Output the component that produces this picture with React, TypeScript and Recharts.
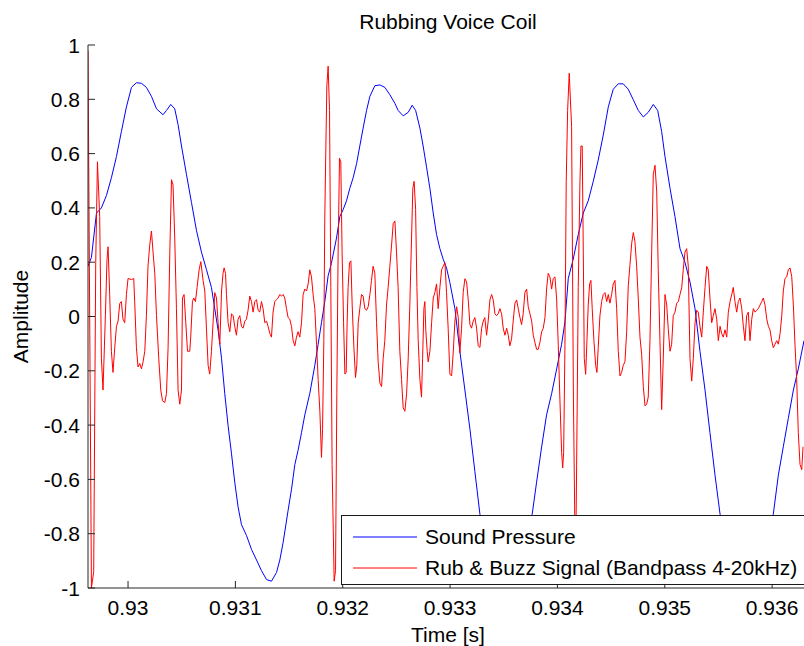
import React from "react";
import { LineChart, Line, XAxis, YAxis, Legend } from "recharts";

// ---- data (time in seconds, amplitude) ----
const blueTime = [
  0.929627, 0.929659, 0.929706, 0.929752, 0.929799, 0.929845, 0.929892, 0.929938, 0.929985, 0.930032,
  0.930078, 0.930125, 0.930171, 0.930218, 0.930265, 0.930326, 0.930358, 0.930398, 0.930435, 0.930466,
  0.930498, 0.930544, 0.930591, 0.930638, 0.930684, 0.930731, 0.930777, 0.930839, 0.930871, 0.930901,
  0.930932, 0.930964, 0.930994, 0.931025, 0.931057, 0.931103, 0.93115, 0.931197, 0.931243, 0.93129,
  0.931336, 0.931383, 0.931414, 0.931445, 0.931491, 0.931523, 0.931554, 0.931584, 0.931616, 0.931647,
  0.931693, 0.93174, 0.931771, 0.931802, 0.931833, 0.931864, 0.931894, 0.931942, 0.931973, 0.932004,
  0.932035, 0.932066, 0.932097, 0.932129, 0.932159, 0.93219, 0.932222, 0.932253, 0.932299, 0.932346,
  0.932392, 0.932439, 0.932486, 0.932516, 0.932563, 0.93261, 0.932647, 0.932679, 0.932719, 0.932749,
  0.932781, 0.932812, 0.932843, 0.932874, 0.932905, 0.932936, 0.932967, 0.932998, 0.933045, 0.933091,
  0.933138, 0.933185, 0.933231, 0.933278, 0.933324, 0.933371, 0.933418, 0.933464, 0.933511, 0.933573,
  0.933623, 0.933669, 0.933716, 0.933765, 0.933806, 0.933853, 0.933899, 0.933946, 0.933993, 0.934039,
  0.93407, 0.934101, 0.934147, 0.934194, 0.934241, 0.934287, 0.934334, 0.93438, 0.934427, 0.934474,
  0.93452, 0.934567, 0.934613, 0.93466, 0.934707, 0.934753, 0.9348, 0.934846, 0.934893, 0.934934,
  0.934971, 0.935002, 0.935049, 0.935095, 0.935142, 0.935188, 0.935235, 0.935282, 0.935328, 0.935375,
  0.935421, 0.935468, 0.935515, 0.935561, 0.935608, 0.935654, 0.935701, 0.935747, 0.93581, 0.935859,
  0.935906, 0.935952, 0.936011, 0.936058, 0.936104, 0.936151, 0.936198, 0.936244, 0.936297,
];
const blueValue = [
  0.185, 0.218, 0.381, 0.4, 0.446, 0.511, 0.589, 0.681, 0.772, 0.844,
  0.861, 0.859, 0.844, 0.811, 0.765, 0.743, 0.759, 0.781, 0.765, 0.707,
  0.628, 0.524, 0.42, 0.316, 0.237, 0.172, 0.107, -0.05, -0.154, -0.284,
  -0.402, -0.506, -0.61, -0.701, -0.767, -0.806, -0.858, -0.897, -0.936, -0.969,
  -0.975, -0.943, -0.897, -0.832, -0.714, -0.636, -0.545, -0.493, -0.428, -0.362,
  -0.284, -0.18, -0.102, -0.023, 0.055, 0.15, 0.195, 0.289, 0.368, 0.394,
  0.426, 0.472, 0.511, 0.563, 0.628, 0.694, 0.759, 0.811, 0.85, 0.853,
  0.844, 0.817, 0.785, 0.759, 0.739, 0.752, 0.778, 0.759, 0.694, 0.628,
  0.55, 0.472, 0.381, 0.302, 0.25, 0.211, 0.179, 0.125, 0.029, -0.128,
  -0.271, -0.415, -0.571, -0.728, -0.8, -0.85, -0.89, -0.93, -0.96, -0.985,
  -0.95, -0.88, -0.8, -0.728, -0.61, -0.48, -0.362, -0.284, -0.193, -0.102,
  -0.02, 0.14, 0.211, 0.302, 0.381, 0.426, 0.498, 0.576, 0.668, 0.772,
  0.837, 0.857, 0.857, 0.837, 0.798, 0.759, 0.735, 0.752, 0.781, 0.759,
  0.681, 0.589, 0.472, 0.368, 0.25, 0.2, 0.127, 0.029, -0.128, -0.271,
  -0.428, -0.584, -0.728, -0.8, -0.85, -0.89, -0.93, -0.96, -0.988, -0.95,
  -0.88, -0.8, -0.728, -0.584, -0.48, -0.375, -0.271, -0.193, -0.089,
];

const redTime = [
  0.929627, 0.929659, 0.92968, 0.929699, 0.929715, 0.929736, 0.929752, 0.929767, 0.929789, 0.929804,
  0.929814, 0.929829, 0.929845, 0.92986, 0.929876, 0.929892, 0.929907, 0.929923, 0.929938, 0.929953,
  0.929969, 0.929985, 0.93, 0.930032, 0.930053, 0.930062, 0.930078, 0.930093, 0.930109, 0.930125,
  0.93014, 0.930156, 0.930171, 0.930186, 0.930202, 0.930218, 0.930233, 0.930249, 0.930265, 0.930286,
  0.930305, 0.930321, 0.930342, 0.930358, 0.930373, 0.930389, 0.930405, 0.930419, 0.930435, 0.930451,
  0.930466, 0.930482, 0.930498, 0.930507, 0.930522, 0.930538, 0.930554, 0.930575, 0.930584, 0.9306,
  0.930612, 0.930628, 0.930643, 0.930662, 0.930678, 0.930699, 0.930715, 0.930731, 0.930746, 0.930761,
  0.930777, 0.930792, 0.930808, 0.930824, 0.930839, 0.930855, 0.930871, 0.930885, 0.930895, 0.930908,
  0.930917, 0.930932, 0.930948, 0.930964, 0.930979, 0.930994, 0.93101, 0.931025, 0.931041, 0.931057,
  0.931072, 0.931088, 0.931103, 0.931118, 0.931134, 0.93115, 0.931165, 0.931181, 0.931197, 0.931212,
  0.931227, 0.931243, 0.931258, 0.931274, 0.93129, 0.931305, 0.931321, 0.931336, 0.931351, 0.931367,
  0.931383, 0.931398, 0.931414, 0.93143, 0.931445, 0.93146, 0.931476, 0.931491, 0.931507, 0.931523,
  0.931538, 0.931554, 0.931569, 0.931584, 0.9316, 0.931616, 0.931631, 0.931647, 0.931663, 0.931678,
  0.931693, 0.931709, 0.931724, 0.93174, 0.931756, 0.931771, 0.931787, 0.931802, 0.931812, 0.931824,
  0.931833, 0.931843, 0.931852, 0.931864, 0.931877, 0.931889, 0.931901, 0.93192, 0.931933, 0.931945,
  0.931957, 0.93197, 0.931982, 0.931994, 0.932008, 0.93202, 0.932032, 0.932041, 0.93205, 0.932063,
  0.932076, 0.932088, 0.932104, 0.932119, 0.932131, 0.932144, 0.932159, 0.932175, 0.93219, 0.932206,
  0.932222, 0.932237, 0.932253, 0.932268, 0.932283, 0.932299, 0.932315, 0.93233, 0.932346, 0.932362,
  0.932377, 0.932392, 0.932408, 0.932423, 0.932439, 0.932455, 0.93247, 0.932486, 0.932501, 0.932516,
  0.932532, 0.932548, 0.932563, 0.932579, 0.932595, 0.93261, 0.932625, 0.932641, 0.932653, 0.932665,
  0.932679, 0.932691, 0.932703, 0.932719, 0.932734, 0.932744, 0.932756, 0.932765, 0.932774, 0.932787,
  0.932796, 0.932812, 0.932828, 0.932843, 0.932858, 0.932874, 0.932889, 0.932905, 0.932921, 0.932936,
  0.932952, 0.932967, 0.932982, 0.932998, 0.933014, 0.933029, 0.933045, 0.933061, 0.933076, 0.933091,
  0.933107, 0.933122, 0.933138, 0.933154, 0.933169, 0.933185, 0.9332, 0.933215, 0.933231, 0.933247,
  0.933262, 0.933278, 0.933294, 0.933309, 0.933324, 0.93334, 0.933355, 0.933371, 0.933387, 0.933402,
  0.933418, 0.933433, 0.933448, 0.933464, 0.93348, 0.933495, 0.933511, 0.933527, 0.933542, 0.933557,
  0.933573, 0.933588, 0.933604, 0.93362, 0.933635, 0.933651, 0.933666, 0.933681, 0.933697, 0.933713,
  0.933728, 0.933744, 0.93376, 0.933775, 0.93379, 0.933806, 0.933821, 0.933837, 0.933853, 0.933868,
  0.933884, 0.933899, 0.933914, 0.93393, 0.933946, 0.933961, 0.933977, 0.933993, 0.934008, 0.934023,
  0.934039, 0.934049, 0.934058, 0.93407, 0.934082, 0.934095, 0.93411, 0.934132, 0.934149, 0.934168,
  0.934179, 0.934194, 0.93421, 0.934219, 0.934231, 0.934241, 0.93425, 0.934263, 0.934275, 0.934287,
  0.9343, 0.934312, 0.934324, 0.93434, 0.934356, 0.934368, 0.93438, 0.934396, 0.934412, 0.934427,
  0.934443, 0.934459, 0.934474, 0.934489, 0.934505, 0.93452, 0.934536, 0.934552, 0.934567, 0.934583,
  0.934598, 0.934613, 0.934629, 0.934645, 0.93466, 0.934676, 0.934692, 0.934707, 0.934722, 0.934738,
  0.934753, 0.934769, 0.934785, 0.9348, 0.934816, 0.934831, 0.934846, 0.934862, 0.934878, 0.934893,
  0.934909, 0.934925, 0.934939, 0.934955, 0.934971, 0.934986, 0.935002, 0.935018, 0.935033, 0.935049,
  0.935064, 0.935079, 0.935095, 0.935111, 0.935126, 0.935142, 0.935158, 0.935172, 0.935188, 0.935204,
  0.935219, 0.935235, 0.935251, 0.935266, 0.935282, 0.935297, 0.935312, 0.935328, 0.935344, 0.935359,
  0.935375, 0.935391, 0.935405, 0.935421, 0.935437, 0.935452, 0.935468, 0.935484, 0.935499, 0.935515,
  0.93553, 0.935545, 0.935561, 0.935577, 0.935592, 0.935608, 0.935624, 0.935638, 0.935654, 0.93567,
  0.935685, 0.935701, 0.935717, 0.935732, 0.935747, 0.935763, 0.935778, 0.935794, 0.93581, 0.935825,
  0.935841, 0.935857, 0.935871, 0.935887, 0.935903, 0.935918, 0.935934, 0.93595, 0.935965, 0.93598,
  0.935996, 0.936011, 0.936027, 0.936043, 0.936058, 0.936074, 0.93609, 0.936104, 0.93612, 0.936136,
  0.936151, 0.936167, 0.936183, 0.936198, 0.936213, 0.936229, 0.936244, 0.93626, 0.936276, 0.936288,
];
const redValue = [
  0.98, -1.0, -0.94, 0.198, 0.57, 0.368, -0.154, -0.271, 0.003, 0.211,
  0.257, 0.081, -0.128, -0.206, -0.115, -0.037, -0.017, 0.048, 0.055, -0.01,
  -0.023, 0.081, 0.14, 0.136, 0.14, 0.055, -0.115, -0.186, -0.173, -0.193,
  -0.167, -0.128, 0.003, 0.185, 0.263, 0.315, 0.237, 0.159, 0.003, -0.154,
  -0.271, -0.31, -0.317, -0.284, -0.115, 0.237, 0.504, 0.485, 0.289, 0.029,
  -0.271, -0.323, -0.271, 0.068, 0.081, -0.023, -0.128, -0.128, -0.076, 0.055,
  0.068, 0.055, 0.107, 0.172, 0.202, 0.133, 0.094, -0.049, -0.18, -0.212,
  -0.128, -0.023, 0.088, 0.068, -0.023, -0.102, 0.094, 0.159, 0.179, 0.159,
  0.081, -0.023, -0.056, 0.01, 0.003, -0.037, -0.069, -0.01, 0.003, -0.037,
  -0.043, -0.017, -0.01, 0.023, 0.075, 0.055, 0.016, 0.055, 0.062, 0.023,
  0.016, 0.055, 0.029, -0.023, -0.017, -0.037, -0.063, -0.076, 0.016, 0.055,
  0.062, 0.068, 0.081, 0.075, 0.081, 0.068, 0.029, -0.004, -0.01, -0.037,
  -0.089, -0.108, -0.076, -0.056, -0.076, -0.023, 0.081, 0.101, 0.094, 0.12,
  0.172, 0.146, 0.081, 0.029, -0.102, -0.232, -0.349, -0.519, -0.415, -0.089,
  0.367, 0.628, 0.85, 0.922, 0.759, 0.107, -0.545, -0.975, -0.936, -0.284,
  0.237, 0.583, 0.57, 0.237, -0.023, -0.212, -0.206, -0.023, 0.107, 0.198,
  0.205, 0.042, -0.115, -0.225, -0.18, -0.023, 0.029, 0.081, 0.075, 0.029,
  0.023, 0.036, 0.081, 0.133, 0.185, 0.159, -0.023, -0.167, -0.245, -0.258,
  -0.154, -0.089, 0.042, 0.107, 0.185, 0.263, 0.342, 0.352, 0.237, 0.107,
  -0.128, -0.232, -0.336, -0.349, -0.284, -0.154, 0.042, 0.289, 0.472, 0.498,
  0.394, 0.107, -0.089, -0.232, -0.297, -0.154, 0.029, 0.055, -0.052, -0.128,
  -0.167, -0.128, -0.023, 0.068, 0.088, 0.12, 0.029, 0.107, 0.172, 0.185,
  0.198, 0.088, -0.043, -0.212, -0.219, -0.134, -0.017, 0.036, -0.004, -0.134,
  -0.043, 0.088, 0.139, 0.127, 0.061, -0.03, -0.043, -0.017, -0.004, -0.043,
  -0.108, -0.114, -0.043, -0.017, -0.004, -0.069, -0.017, 0.061, 0.081, 0.061,
  0.01, 0.003, 0.01, 0.029, 0.01, -0.043, -0.069, -0.043, -0.069, -0.108,
  -0.082, -0.017, 0.049, 0.061, 0.029, -0.004, -0.03, 0.01, 0.088, 0.101,
  0.036, 0.01, -0.017, -0.069, -0.095, -0.121, -0.121, -0.095, -0.056, -0.043,
  -0.004, 0.101, 0.159, 0.146, 0.101, 0.14, 0.146, 0.061, -0.108, -0.304,
  -0.5, -0.558, -0.5, -0.108, 0.498, 0.759, 0.896, 0.7, -0.3, -0.97,
  -0.55, 0.107, 0.498, 0.628, 0.628, 0.237, -0.154, -0.213, -0.089, 0.042,
  0.12, 0.133, 0.029, -0.089, -0.18, -0.206, -0.115, 0.003, 0.055, 0.081,
  0.088, 0.055, 0.081, 0.049, 0.081, 0.12, 0.133, 0.029, -0.128, -0.219,
  -0.206, -0.18, -0.167, -0.056, 0.113, 0.192, 0.27, 0.309, 0.276, 0.185,
  0.068, -0.076, -0.141, -0.258, -0.329, -0.323, -0.297, -0.089, 0.237, 0.524,
  0.557, 0.459, 0.172, -0.089, -0.343, -0.154, 0.081, 0.042, -0.049, -0.128,
  -0.102, 0.003, 0.016, 0.049, 0.055, 0.081, 0.107, 0.172, 0.237, 0.25,
  0.185, -0.154, -0.238, -0.154, -0.023, 0.023, 0.016, -0.036, -0.076, 0.016,
  0.107, 0.185, 0.172, 0.068, -0.023, 0.003, 0.029, -0.01, -0.089, -0.036,
  -0.063, -0.076, -0.049, -0.076, 0.016, 0.055, 0.081, 0.107, 0.055, 0.016,
  0.055, 0.068, 0.029, -0.036, -0.089, 0.003, 0.016, -0.089, -0.01, 0.029,
  0.016, 0.023, 0.029, 0.042, 0.055, 0.068, 0.042, -0.01, -0.036, -0.049,
  -0.089, -0.115, -0.102, -0.089, -0.102, -0.063, 0.003, 0.094, 0.14, 0.146,
  0.172, 0.179, 0.146, 0.042, -0.102, -0.232, -0.428, -0.545, -0.564, -0.48,
];

const xTicks = [0.93, 0.931, 0.932, 0.933, 0.934, 0.935, 0.936];
const yTicks = [-1, -0.8, -0.6, -0.4, -0.2, 0, 0.2, 0.4, 0.6, 0.8, 1];
const xDomain = [0.929627, 0.936297];
const seriesNames = ["Sound Pressure", "Rub & Buzz Signal (Bandpass 4-20kHz)"];
const titleText = "Rubbing Voice Coil";
const xLabelText = "Time [s]";
const yLabelText = "Amplitude";

const blueData = blueTime.map((t, i) => ({ t, v: blueValue[i] }));
const redData = redTime.map((t, i) => ({ t, v: redValue[i] }));

const FONT = "'Liberation Sans', Arial, Helvetica, sans-serif";
const FS = 21;
const AXIS = "#262626";

const fmtX = (v: number) => v.toFixed(3).replace(/0+$/, "");
const fmtY = (v: number) => String(Number(v.toFixed(1)));

const XTick = (props: any) => {
  const { x, y, payload } = props;
  return (
    <g>
      <line x1={x} y1={y} x2={x} y2={y - 7} stroke={AXIS} strokeWidth={1} />
      <text x={x} y={y + 27} textAnchor="middle" fontSize={FS} fontFamily={FONT} fill="#000">
        {fmtX(payload.value)}
      </text>
    </g>
  );
};

const YTick = (props: any) => {
  const { x, y, payload } = props;
  return (
    <g>
      <line x1={x} y1={y} x2={x + 7} y2={y} stroke={AXIS} strokeWidth={1} />
      <text x={x - 8} y={y} textAnchor="end" dominantBaseline="central" fontSize={FS} fontFamily={FONT} fill="#000">
        {fmtY(payload.value)}
      </text>
    </g>
  );
};

const YLabel = (props: any) => {
  const vb = props.viewBox || {};
  const cx = (vb.x || 0) + 20;
  const cy = (vb.y || 0) + (vb.height || 0) / 2;
  return (
    <text x={cx} y={cy} transform={`rotate(-90 ${cx} ${cy})`} textAnchor="middle" dominantBaseline="central"
      fontSize={FS} fontFamily={FONT} fill="#000">
      {yLabelText}
    </text>
  );
};

const XLabel = (props: any) => {
  const vb = props.viewBox || {};
  const cx = (vb.x || 0) + 360;
  const cy = (vb.y || 0) + 46;
  return (
    <text x={cx} y={cy} textAnchor="middle" dominantBaseline="central" fontSize={FS} fontFamily={FONT} fill="#000">
      {xLabelText}
    </text>
  );
};

const renderLegend = (props: any) => {
  const payload = [...(props.payload || [])].sort(
    (a: any, b: any) => seriesNames.indexOf(a.value) - seriesNames.indexOf(b.value)
  );
  return (
    <div
      style={{
        width: "100%",
        height: "100%",
        boxSizing: "border-box",
        borderTop: "1.5px solid #1a1a1a",
        borderLeft: "1.5px solid #1a1a1a",
        borderBottom: "1.5px solid #1a1a1a",
        background: "#fff",
        position: "relative",
        overflow: "hidden",
      }}
    >
      {payload.map((p: any, i: number) => (
        <div
          key={i}
          style={{
            position: "absolute",
            left: 11,
            top: 7 + i * 30.6,
            height: 28,
            display: "flex",
            alignItems: "center",
            whiteSpace: "nowrap",
          }}
        >
          <svg width={64} height={4} style={{ display: "block" }}>
            <line x1={0} y1={2} x2={64} y2={2} stroke={p.color} strokeWidth={1} />
          </svg>
          <span style={{ marginLeft: 8, fontSize: FS, fontFamily: FONT, color: "#000", lineHeight: "28px" }}>
            {p.value}
          </span>
        </div>
      ))}
    </div>
  );
};

export default function App() {
  return (
    <div style={{ position: "absolute", left: 0, top: 0, width: 804, height: 646, background: "#fff" }}>
      <div
        style={{
          position: "absolute",
          left: 88,
          width: 720,
          top: 9,
          height: 26,
          lineHeight: "26px",
          textAlign: "center",
          fontFamily: FONT,
          fontSize: FS,
          color: "#000",
        }}
      >
        {titleText}
      </div>
      <LineChart
        width={804}
        height={646}
        margin={{ top: 45, right: 0, bottom: 0, left: 0 }}
        style={{ fontFamily: FONT }}
      >
        <XAxis
          dataKey="t"
          type="number"
          domain={xDomain}
          allowDataOverflow
          ticks={xTicks}
          interval={0}
          height={58}
          tickSize={0}
          tickMargin={0}
          tickLine={false}
          tick={XTick}
          axisLine={{ stroke: AXIS, strokeWidth: 1 }}
          label={<XLabel />}
        />
        <YAxis
          type="number"
          domain={[-1, 1]}
          allowDataOverflow
          ticks={yTicks}
          interval={0}
          width={88}
          tickSize={0}
          tickMargin={0}
          tickLine={false}
          tick={YTick}
          axisLine={{ stroke: AXIS, strokeWidth: 1 }}
          label={<YLabel />}
        />
        <Legend
          verticalAlign="middle"
          align="center"
          layout="horizontal"
          itemSorter={null as any}
          wrapperStyle={{ position: "absolute", left: 341, top: 515, width: 463, height: 70, margin: 0, padding: 0 }}
          content={renderLegend}
        />
        <Line
          data={blueData}
          dataKey="v"
          name={seriesNames[0]}
          type="linear"
          stroke="#0000ff"
          strokeWidth={1}
          dot={false}
          activeDot={false}
          isAnimationActive={false}
        />
        <Line
          data={redData}
          dataKey="v"
          name={seriesNames[1]}
          type="linear"
          stroke="#ff0000"
          strokeWidth={1}
          dot={false}
          activeDot={false}
          isAnimationActive={false}
        />
      </LineChart>
    </div>
  );
}
